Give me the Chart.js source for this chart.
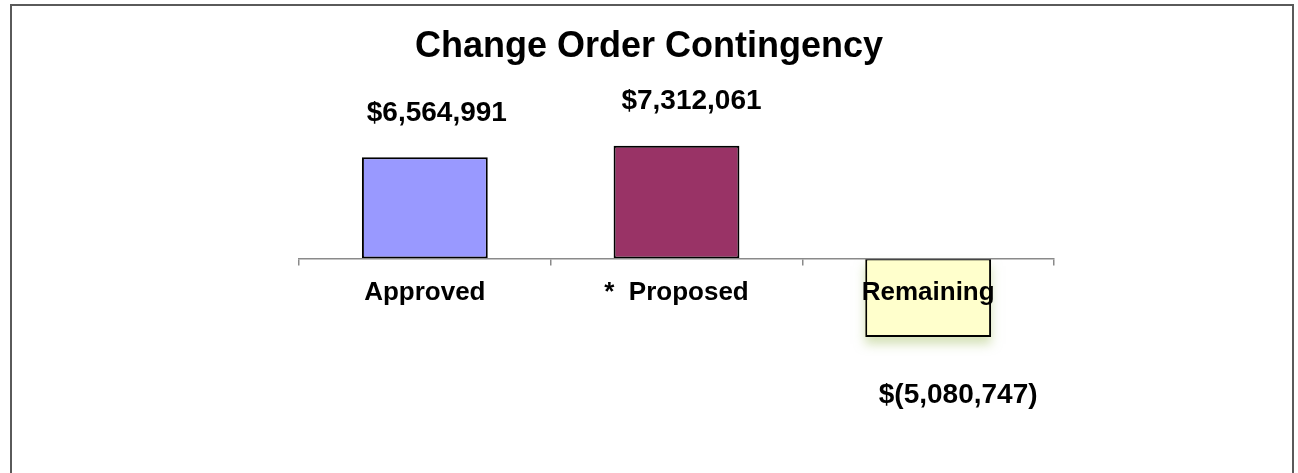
<!DOCTYPE html>
<html>
<head>
<meta charset="utf-8">
<script src="https://cdn.jsdelivr.net/npm/chart.js@4.4.1/dist/chart.umd.min.js"></script>
<style>
  html, body { margin: 0; padding: 0; background: #fff; overflow: hidden; }
  canvas { display: block; }
</style>
</head>
<body>
<canvas id="chartContingency" width="1298" height="473"></canvas>
<script>
// chart data
const categories = ["Approved", "*  Proposed", "Remaining"];
const amounts = [6564991, 7312061, -5080747];
const barColors = ["#9999FF", "#993366", "#FFFFCC"];

const fontFamily = "'Liberation Sans', Arial, Helvetica, sans-serif";

// format like excel accounting: $6,564,991 / $(5,080,747)
const formatMoney = (v) => {
    const s = Math.abs(v).toLocaleString("en-US");
    return v < 0 ? "$(" + s + ")" : "$" + s;
};

// outer frame of the chart
const framePlugin = {
    id: "frame",
    afterDraw(chart) {
        const ctx = chart.ctx;
        ctx.save();
        ctx.strokeStyle = "#5a5a5a";
        ctx.lineWidth = 2;
        ctx.strokeRect(11, 5, 1282, 600);
        ctx.restore();
    }
};

// soft shadow under the negative bar
const barShadowPlugin = {
    id: "barShadow",
    beforeDatasetsDraw(chart) {
        const ctx = chart.ctx;
        const meta = chart.getDatasetMeta(0);
        ctx.save();
        meta.data.forEach((bar, i) => {
            if (chart.data.datasets[0].data[i] >= 0) return;
            const p = bar.getProps(["x", "y", "base", "width"], true);
            ctx.shadowColor = "rgba(170, 195, 110, 0.5)";
            ctx.shadowBlur = 10;
            ctx.shadowOffsetY = 7;
            ctx.fillStyle = "#FFFFCC";
            ctx.fillRect(p.x - p.width / 2, p.base, p.width, p.y - p.base);
        });
        ctx.restore();
    }
};

// value labels above / below each bar
const valueLabelPlugin = {
    id: "valueLabels",
    afterDatasetsDraw(chart, args, opts) {
        const ctx = chart.ctx;
        const meta = chart.getDatasetMeta(0);
        ctx.save();
        ctx.font = "bold 28px " + fontFamily;
        ctx.fillStyle = "#000";
        ctx.textAlign = "center";
        ctx.textBaseline = "middle";
        meta.data.forEach((bar, i) => {
            const v = chart.data.datasets[0].data[i];
            const dx = opts.dx[i] || 0;
            const dy = v < 0 ? opts.below : -opts.above;
            ctx.fillText(formatMoney(v), bar.x + dx, bar.y + dy);
        });
        ctx.restore();
    }
};

const chartContingency = new Chart(document.getElementById("chartContingency"), {
    type: "bar",
    data: {
        labels: categories,
        datasets: [{
            data: amounts,
            backgroundColor: barColors,
            borderColor: "#000",
            borderWidth: 2,
            borderSkipped: false,
            barPercentage: 0.5,
            categoryPercentage: 1.0
        }]
    },
    options: {
        responsive: false,
        animation: false,
        devicePixelRatio: 1,
        layout: {
            padding: { left: 244, right: 244, top: 0, bottom: 26 }
        },
        scales: {
            x: {
                position: { y: 0 },
                grid: {
                    offset: true,
                    drawOnChartArea: false,
                    drawTicks: true,
                    tickLength: 6,
                    color: "#8a8a8a",
                    lineWidth: 1.5,
                    z: 1
                },
                border: { color: "#8a8a8a", width: 1.5, z: 1 },
                ticks: {
                    color: "#000",
                    padding: 13,
                    maxRotation: 0,
                    z: 1,
                    font: { family: fontFamily, size: 26, weight: "bold" }
                }
            },
            y: {
                // invisible axis, only keeps the plot offset from the centred title
                display: true,
                min: -12200000,
                max: 12200000,
                grid: { display: false },
                border: { display: false },
                ticks: { display: false },
                afterFit(scale) { scale.width = 55; }
            }
        },
        plugins: {
            legend: { display: false },
            tooltip: { enabled: false },
            title: {
                display: true,
                text: "Change Order Contingency",
                color: "#000",
                font: { family: fontFamily, size: 36, weight: "bold", lineHeight: 1.2 },
                padding: { top: 25, bottom: 2 }
            },
            valueLabels: {
                dx: [12, 15, 30],
                above: 44,
                below: 58
            }
        }
    },
    plugins: [framePlugin, barShadowPlugin, valueLabelPlugin]
});
</script>
</body>
</html>
